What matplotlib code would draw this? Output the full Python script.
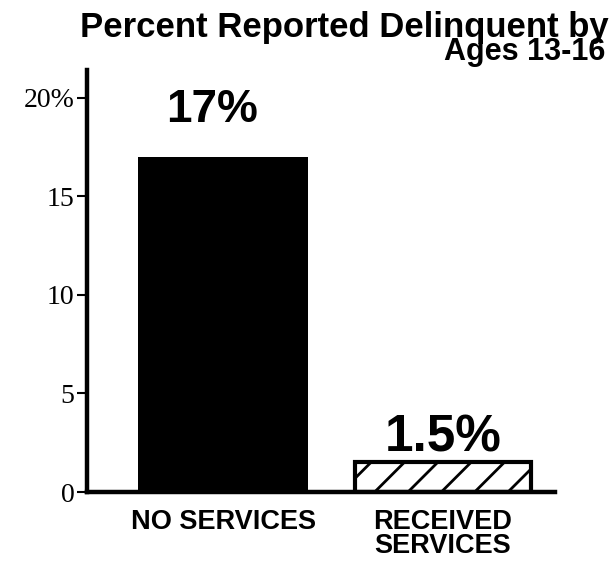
import matplotlib.pyplot as plt

plt.rcParams['hatch.linewidth'] = 2.0

groups = ["NO SERVICES", "RECEIVED\nSERVICES"]
percent = [17, 1.5]
labels = ["17%", "1.5%"]
yticks = [0, 5, 10, 15, 20]
ytick_labels = ["0", "5", "10", "15", "20%"]

fig = plt.figure(figsize=(6.15, 5.63), dpi=100)
ax = fig.add_axes([0.1415, 0.1261, 0.761, 0.7496])

x = range(len(groups))
ax.bar(x[0], percent[0], width=0.775, color="black", edgecolor="black", linewidth=0)
ax.bar(x[1], percent[1], width=0.80, color="white", edgecolor="black",
       linewidth=3, hatch="/")

# value labels above the bars
ax.annotate(labels[0], (x[0] - 0.05, percent[0]), xytext=(0, 25), textcoords="offset points",
            ha="center", va="baseline", fontsize=33, fontweight="bold",
            family="Liberation Sans")
ax.annotate(labels[1], (x[1], percent[1]), xytext=(0, 8), textcoords="offset points",
            ha="center", va="baseline", fontsize=37, fontweight="bold",
            family="Liberation Sans")

ax.set_xlim(-0.618, 1.509)
ax.set_ylim(0, 21.4)

ax.spines["top"].set_visible(False)
ax.spines["right"].set_visible(False)
ax.spines["left"].set_linewidth(3.2)
ax.spines["bottom"].set_linewidth(3.2)

ax.set_yticks(yticks)
ax.set_yticklabels(ytick_labels, family="Liberation Serif", fontsize=20)
ax.tick_params(axis="y", direction="out", length=7, width=1.5, pad=2)

ax.set_xticks([0, 1])
ax.set_xticklabels(groups, family="Liberation Sans", fontweight="bold",
                   fontsize=19.5, linespacing=0.9)
ax.tick_params(axis="x", length=0, pad=12)

fig.text(0.99, 0.935, "Percent Reported Delinquent by", ha="right", va="baseline",
         fontsize=25, fontweight="bold", family="Liberation Sans")
fig.text(0.985, 0.893, "Ages 13-16", ha="right", va="baseline",
         fontsize=22, fontweight="bold", family="Liberation Sans")

plt.savefig("out.png", dpi=100)
